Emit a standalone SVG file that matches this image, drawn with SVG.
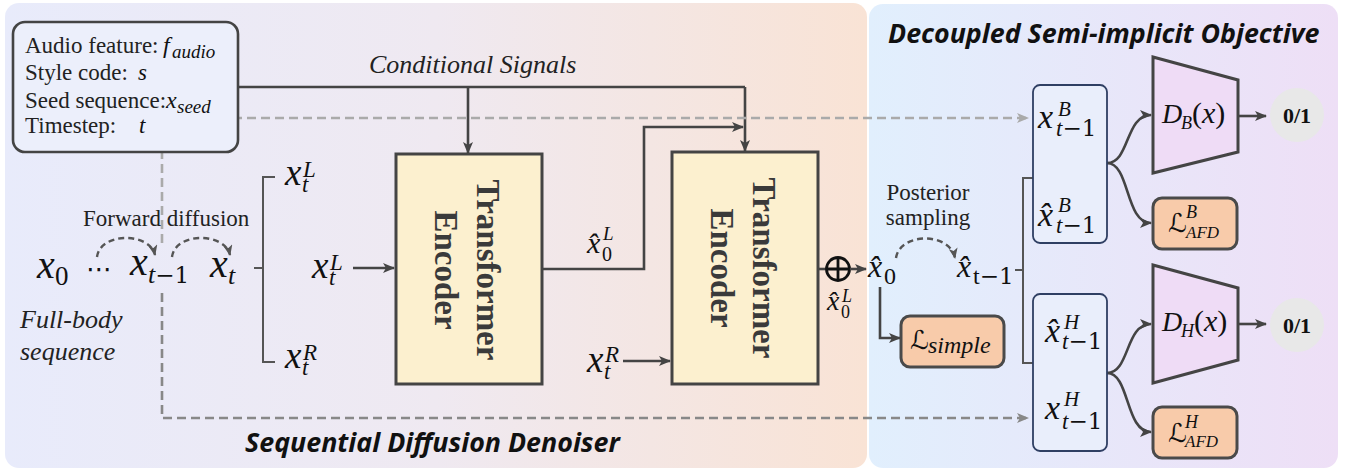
<svg xmlns="http://www.w3.org/2000/svg" width="1347" height="471" viewBox="0 0 1347 471">
<defs>
<linearGradient id="gL" x1="0" y1="0" x2="1" y2="0"><stop offset="0" stop-color="#e8ebfb"/><stop offset="0.5" stop-color="#efe9f1"/><stop offset="1" stop-color="#f9e3d5"/></linearGradient>
<linearGradient id="gR" x1="0" y1="0" x2="1" y2="0"><stop offset="0" stop-color="#e1effd"/><stop offset="1" stop-color="#eedff6"/></linearGradient>
<marker id="ah" viewBox="0 0 12 10" refX="11" refY="5" markerWidth="12" markerHeight="10" markerUnits="userSpaceOnUse" orient="auto"><path d="M0,0 L12,5 L0,10 L3,5 Z" fill="#444"/></marker>
<marker id="ahD" viewBox="0 0 12 10" refX="11" refY="5" markerWidth="11" markerHeight="9" markerUnits="userSpaceOnUse" orient="auto"><path d="M0,0 L12,5 L0,10 L3,5 Z" fill="#555"/></marker>
<marker id="ahG1" viewBox="0 0 12 10" refX="11" refY="5" markerWidth="12" markerHeight="10" markerUnits="userSpaceOnUse" orient="auto"><path d="M0,0 L12,5 L0,10 L3,5 Z" fill="#aaa"/></marker>
<marker id="ahG2" viewBox="0 0 12 10" refX="11" refY="5" markerWidth="12" markerHeight="10" markerUnits="userSpaceOnUse" orient="auto"><path d="M0,0 L12,5 L0,10 L3,5 Z" fill="#888"/></marker>
<style>
.t{font-family:"Liberation Serif","Times New Roman",serif;font-size:23px;fill:#222}
.ti{font-family:"Liberation Serif","Times New Roman",serif;font-style:italic;fill:#222}
.m{font-family:"Liberation Serif","Times New Roman",serif;font-style:italic;fill:#111}
.u{font-family:"Liberation Serif","Times New Roman",serif;font-style:normal}
.dj{font-family:"DejaVu Serif",serif;font-style:normal}
.sc{font-family:"DejaVu Serif","DejaVu Sans",serif;font-style:normal}
.h{font-family:"Open Sans","Noto Sans",sans-serif;font-weight:bold;font-style:italic;font-size:26.8px;fill:#111}
.enc{font-family:"Liberation Serif","Times New Roman",serif;font-weight:bold;font-size:33px;fill:#3a3a3a}
.ln{fill:none;stroke:#444;stroke-width:2.6}
.br{fill:none;stroke:#555;stroke-width:2}
.dsh{fill:none;stroke:#555;stroke-width:2.4;stroke-dasharray:6 4}
.encbox{fill:#fcf0cf;stroke:#444;stroke-width:3}
.xbox{fill:#e9eefb;stroke:#2f3f63;stroke-width:1.8}
.lbox{fill:#f8cbaa;stroke:#4a4a4a;stroke-width:3}
.trap{fill:#efdcf6;stroke:#444;stroke-width:3}
.cir{fill:#e8e8e8}
</style>
</defs>
<rect x="0" y="0" width="1347" height="471" fill="#ffffff"/>
<g id="panel-left"><rect x="5" y="3" width="862" height="465" rx="14" fill="url(#gL)"/>
<text class="h" x="245" y="452">Sequential Diffusion Denoiser</text></g>
<g id="panel-right"><rect x="869" y="4" width="469" height="464" rx="14" fill="url(#gR)"/>
<text class="h" x="888" y="43">Decoupled Semi-implicit Objective</text></g>

<g id="connectors">
<path class="ln" d="M238,87 H745"/>
<path class="ln" d="M468,87 V153" marker-end="url(#ah)"/>
<path class="ln" d="M745,87 V151" marker-end="url(#ah)"/>
<path class="ln" d="M542,269 H644 V127 H743" marker-end="url(#ah)"/>
<path class="ln" d="M353,268 H394" marker-end="url(#ah)"/>
<path class="ln" d="M623,361 H670" marker-end="url(#ah)"/>
<path class="ln" d="M818,269 H826"/>
<circle cx="838" cy="269" r="11.5" fill="none" stroke="#111" stroke-width="2.8"/>
<path d="M826,269 H850 M838,257 V281" stroke="#111" stroke-width="2.8"/>
<path class="ln" d="M850,269 H866" marker-end="url(#ah)"/>
<path class="ln" d="M880,287 V338 H900" marker-end="url(#ah)"/>
<path class="dsh" d="M97,257 C100,232 150,232 155,255" marker-end="url(#ahD)"/>
<path class="dsh" d="M172,257 C175,232 225,232 230,255" marker-end="url(#ahD)"/>
<path class="dsh" d="M896,258 C900,232 950,232 955,258" marker-end="url(#ahD)"/>
<path class="br" d="M254,268 H263 M275,177 H263 V362 H275"/>
<path class="br" d="M1015,270 H1023 M1033,178 H1023 V363 H1033"/>
<path d="M162,243 V118 H1028" fill="none" stroke="#aaa" stroke-width="2.6" stroke-dasharray="9 5" marker-end="url(#ahG1)"/>
<path d="M162,293 V418 H1028" fill="none" stroke="#888" stroke-width="2.6" stroke-dasharray="9 5" marker-end="url(#ahG2)"/>
<path class="ln" d="M1107,163 C1130,163 1125,115 1151,115" marker-end="url(#ah)"/>
<path class="ln" d="M1107,163 C1130,163 1125,223 1151,223" marker-end="url(#ah)"/>
<path class="ln" d="M1107,373 C1130,373 1125,324 1151,324" marker-end="url(#ah)"/>
<path class="ln" d="M1107,373 C1130,373 1125,432 1151,432" marker-end="url(#ah)"/>
<path class="ln" d="M1238,116 H1266" marker-end="url(#ah)"/>
<path class="ln" d="M1238,324 H1266" marker-end="url(#ah)"/>
</g>

<g id="inputs">
<rect x="13" y="22" width="225" height="130" rx="12" fill="#eceffb" stroke="#444" stroke-width="2.6"/>
<text class="t" font-size="22" x="25" y="53">Audio feature:<tspan class="m" font-size="24" x="163">f</tspan><tspan class="m" font-size="19" x="172" y="58">audio</tspan></text>
<text class="t" font-size="22" x="25" y="80">Style code:<tspan class="m" font-size="23" x="138">s</tspan></text>
<text class="t" font-size="21" x="25" y="108">Seed sequence:<tspan class="m" font-size="24" x="166">x</tspan><tspan class="m" font-size="19" x="177" y="113">seed</tspan></text>
<text class="t" font-size="22" x="25" y="133">Timestep:<tspan class="m" font-size="23" x="139">t</tspan></text>
</g>

<g id="cond-label"><text class="ti" x="369" y="73" font-size="26">Conditional Signals</text></g>

<g id="forward">
<text class="t" x="83" y="226">Forward diffusion</text>
<text class="m" font-size="40"><tspan x="37" y="278">x</tspan><tspan class="u" font-size="27" x="55" y="285">0</tspan></text>
<text class="sc" x="86" y="278" font-size="26" fill="#111">⋯</text>
<text class="m" font-size="40"><tspan x="130" y="275">x</tspan><tspan font-size="26" x="148" y="283">t</tspan><tspan class="dj" font-size="23">−1</tspan></text>
<text class="m" font-size="40"><tspan x="210" y="277">x</tspan><tspan font-size="26" x="228" y="284">t</tspan></text>
<text class="ti" x="20" y="328" font-size="26">Full-body</text>
<text class="ti" x="20" y="360" font-size="26">sequence</text>
</g>

<g id="split">
<text class="m" font-size="37"><tspan x="285" y="185">x</tspan><tspan font-size="23" x="303" y="177">L</tspan><tspan font-size="23" x="302" y="192">t</tspan></text>
<text class="m" font-size="37"><tspan x="312" y="278">x</tspan><tspan font-size="23" x="330" y="270">L</tspan><tspan font-size="23" x="329" y="285">t</tspan></text>
<text class="m" font-size="37"><tspan x="285" y="368">x</tspan><tspan font-size="23" x="303" y="360">R</tspan><tspan font-size="23" x="302" y="375">t</tspan></text>
</g>

<g id="encoder1">
<rect class="encbox" x="396" y="154" width="146" height="230"/>
<text class="enc" transform="translate(477,270) rotate(90)" text-anchor="middle">Transformer</text>
<text class="enc" transform="translate(435,270) rotate(90)" text-anchor="middle">Encoder</text>
</g>
<g id="x0L-label">
<text class="m" font-size="30"><tspan x="587" y="253">x̂</tspan><tspan font-size="19" x="603" y="240">L</tspan><tspan class="u" font-size="20" x="602" y="261">0</tspan></text>
</g>
<g id="xR-input">
<text class="m" font-size="37"><tspan x="587" y="372">x</tspan><tspan font-size="23" x="605" y="362">R</tspan><tspan font-size="23" x="604" y="379">t</tspan></text>
</g>
<g id="encoder2">
<rect class="encbox" x="672" y="152" width="146" height="232"/>
<text class="enc" transform="translate(753,268) rotate(90)" text-anchor="middle">Transformer</text>
<text class="enc" transform="translate(711,268) rotate(90)" text-anchor="middle">Encoder</text>
</g>
<g id="sum-label">
<text class="m" font-size="28"><tspan x="827" y="310">x̂</tspan><tspan font-size="18" x="842" y="302">L</tspan><tspan class="u" font-size="18" x="841" y="318">0</tspan></text>
</g>

<g id="posterior">
<text class="t" x="928" y="200" text-anchor="middle">Posterior</text>
<text class="t" x="928" y="225" text-anchor="middle">sampling</text>
<text class="m" font-size="32"><tspan x="868" y="277">x̂</tspan><tspan class="u" font-size="24" x="884" y="284">0</tspan></text>
<text class="m" font-size="32"><tspan x="957" y="277">x̂</tspan><tspan class="u" font-size="24" x="973" y="284">t</tspan><tspan class="dj" font-size="23">−1</tspan></text>
</g>

<g id="l-simple">
<rect class="lbox" x="901" y="316" width="103" height="51" rx="9"/>
<text class="m" font-size="24" fill="#111"><tspan class="sc" font-size="26" x="910" y="349">ℒ</tspan><tspan x="928" y="353">simple</tspan></text>
</g>

<g id="box-B">
<rect class="xbox" x="1033" y="85" width="74" height="158" rx="7"/>
<text class="m" font-size="34"><tspan x="1038" y="128">x</tspan><tspan font-size="21" x="1058" y="116">B</tspan><tspan font-size="23" x="1056" y="136">t</tspan><tspan class="dj" font-size="23">−1</tspan></text>
<text class="m" font-size="34"><tspan x="1038" y="226">x̂</tspan><tspan font-size="21" x="1058" y="212">B</tspan><tspan font-size="23" x="1056" y="233">t</tspan><tspan class="dj" font-size="23">−1</tspan></text>
</g>

<g id="box-H">
<rect class="xbox" x="1033" y="294" width="74" height="157" rx="7"/>
<text class="m" font-size="34"><tspan x="1045" y="342">x̂</tspan><tspan font-size="21" x="1064" y="329">H</tspan><tspan font-size="23" x="1062" y="349">t</tspan><tspan class="dj" font-size="23">−1</tspan></text>
<text class="m" font-size="34"><tspan x="1045" y="419">x</tspan><tspan font-size="21" x="1064" y="406">H</tspan><tspan font-size="23" x="1062" y="429">t</tspan><tspan class="dj" font-size="23">−1</tspan></text>
</g>

<g id="disc-B">
<polygon class="trap" points="1153,57 1238,80 1238,152 1153,173"/>
<text class="m" font-size="28"><tspan x="1162" y="123">D</tspan><tspan font-size="18" x="1181" y="129">B</tspan><tspan class="u" font-size="30" x="1192" y="123">(</tspan><tspan font-size="30">x</tspan><tspan class="u" font-size="30">)</tspan></text>
</g>
<g id="out-B">
<circle class="cir" cx="1297" cy="115" r="27"/>
<text x="1297" y="123" text-anchor="middle" font-family="'Liberation Serif', 'Times New Roman', serif" font-weight="bold" font-size="22" fill="#111">0/1</text>
</g>
<g id="lafd-B">
<rect class="lbox" x="1153" y="198" width="84" height="51" rx="9"/>
<text class="m" font-size="18"><tspan class="sc" font-size="26" x="1168" y="232">ℒ</tspan><tspan x="1186" y="218">B</tspan><tspan font-size="17" x="1186" y="238">AFD</tspan></text>
</g>

<g id="disc-H">
<polygon class="trap" points="1153,265 1238,288 1238,360 1153,383"/>
<text class="m" font-size="28"><tspan x="1162" y="331">D</tspan><tspan font-size="18" x="1181" y="337">H</tspan><tspan class="u" font-size="30" x="1194" y="331">(</tspan><tspan font-size="30">x</tspan><tspan class="u" font-size="30">)</tspan></text>
</g>
<g id="out-H">
<circle class="cir" cx="1297" cy="325" r="27"/>
<text x="1297" y="333" text-anchor="middle" font-family="'Liberation Serif', 'Times New Roman', serif" font-weight="bold" font-size="22" fill="#111">0/1</text>
</g>
<g id="lafd-H">
<rect class="lbox" x="1153" y="407" width="84" height="51" rx="9"/>
<text class="m" font-size="18"><tspan class="sc" font-size="26" x="1168" y="442">ℒ</tspan><tspan x="1185" y="428">H</tspan><tspan font-size="17" x="1185" y="447">AFD</tspan></text>
</g>
</svg>
